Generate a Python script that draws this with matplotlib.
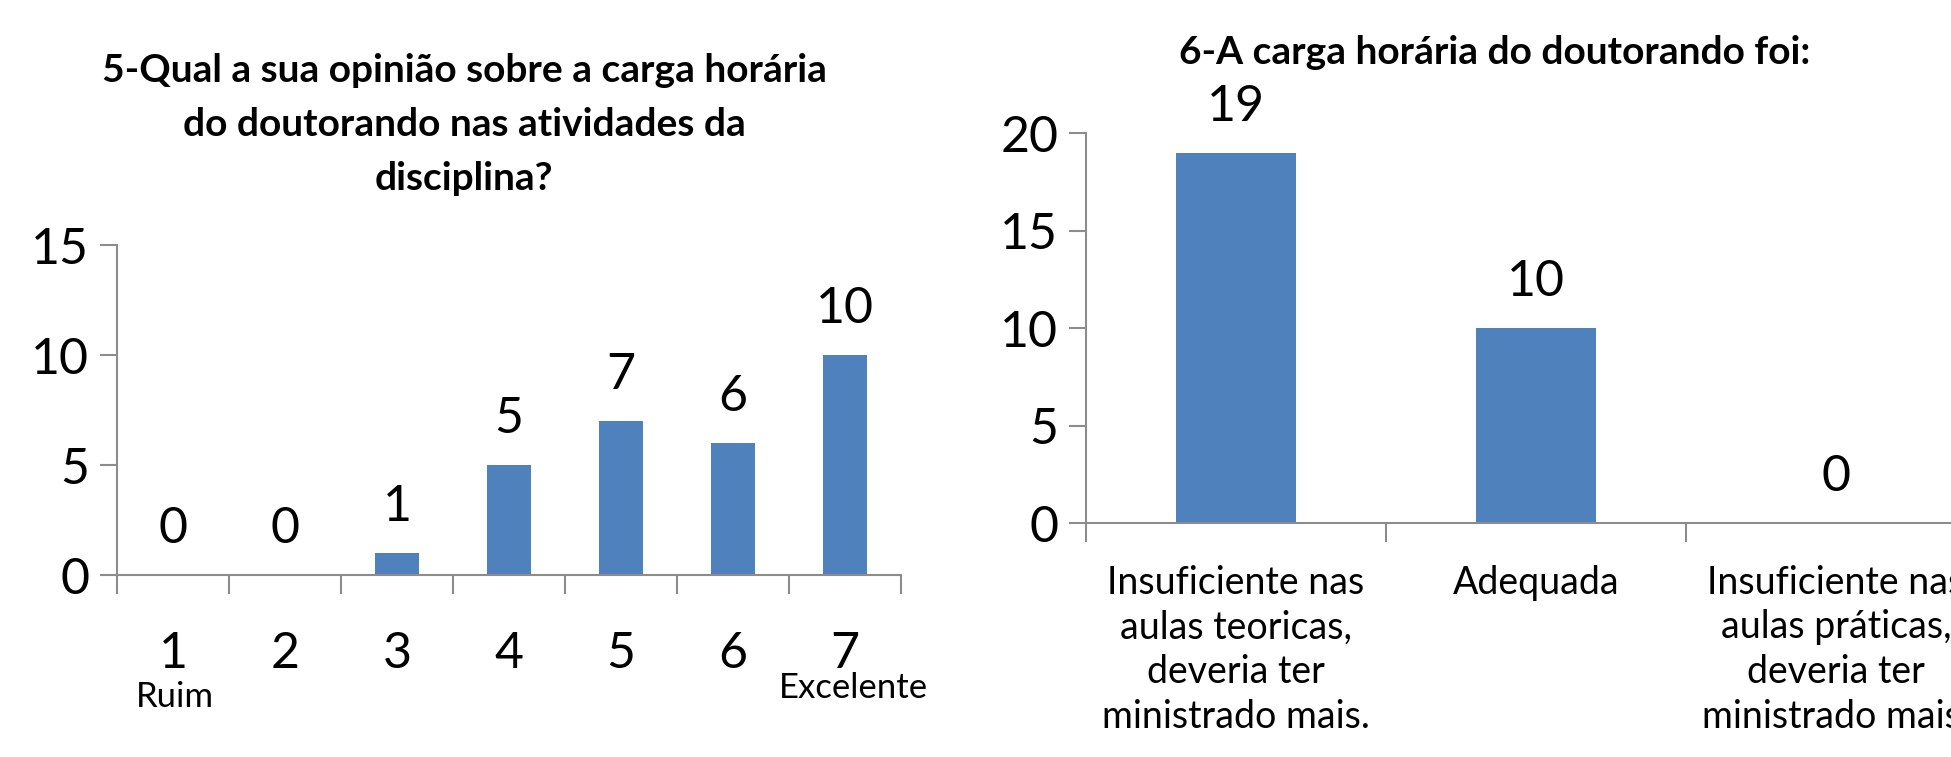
import matplotlib
matplotlib.use('Agg')
import matplotlib.pyplot as plt
import numpy as np

plt.rcParams['font.family'] = ['Lato', 'DejaVu Sans']

# dados - pergunta 5
notas = ['1', '2', '3', '4', '5', '6', '7']
votos5 = [0, 0, 1, 5, 7, 6, 10]

# dados - pergunta 6
opcoes = ['Insuficiente nas\naulas teoricas,\ndeveria ter\nministrado mais.',
          'Adequada',
          'Insuficiente nas\naulas práticas,\ndeveria ter\nministrado mais.']
votos6 = [19, 10, 0]

azul = '#4F81BD'
cinza = '#8C8C8C'

fig = plt.figure(figsize=(19.51, 7.57), dpi=100)


def estilo(ax, n, ymax, passo):
    for s in ['top', 'right']:
        ax.spines[s].set_visible(False)
    for s in ['left', 'bottom']:
        ax.spines[s].set_color(cinza)
        ax.spines[s].set_linewidth(1.5)
    ax.set_xlim(-0.5, n - 0.5)
    ax.set_ylim(0, ymax)
    ax.set_yticks(np.arange(0, ymax + 1, passo))
    ax.set_xticks(np.arange(-0.5, n, 1.0))
    ax.set_xticklabels([])
    ax.tick_params(axis='both', which='major', direction='out', length=12,
                   width=1.5, color=cinza, labelsize=36, pad=8)
    ax.tick_params(axis='x', which='major', length=14)


# grafico 5
ax1 = fig.add_axes([0.060, 0.240, 0.4018, 0.436])
x1 = np.arange(len(notas))
b1 = ax1.bar(x1, votos5, width=0.39, color=azul)
estilo(ax1, len(notas), 15, 5)
ax1.set_xticks(x1, minor=True)
ax1.set_xticklabels(notas, minor=True)
ax1.tick_params(axis='x', which='minor', length=0, labelsize=36, pad=40)
for xi, v in zip(x1, votos5):
    ax1.annotate(str(v), (xi, v), xytext=(0, 33), textcoords='offset points',
                 ha='center', va='center', fontsize=36)
ax1.text(0.02, -0.37, 'Ruim', transform=ax1.get_xaxis_transform(),
         ha='center', va='center', fontsize=25)
ax1.text(6.08, -0.34, 'Excelente', transform=ax1.get_xaxis_transform(),
         ha='center', va='center', fontsize=25)
fig.text(0.238, 0.836, '5-Qual a sua opinião sobre a carga horária\n'
         'do doutorando nas atividades da\ndisciplina?',
         ha='center', va='center', fontsize=28, fontweight='bold',
         linespacing=1.66)

# grafico 6
ax2 = fig.add_axes([0.5566, 0.309, 0.4613, 0.515])
x2 = np.arange(len(opcoes))
b2 = ax2.bar(x2, votos6, width=0.40, color=azul)
estilo(ax2, len(opcoes), 20, 5)
ax2.set_xticks(x2, minor=True)
ax2.set_xticklabels(opcoes, minor=True, linespacing=1.3)
ax2.tick_params(axis='x', which='minor', length=0, labelsize=27, pad=30)
for xi, v in zip(x2, votos6):
    ax2.annotate(str(v), (xi, v), xytext=(0, 33), textcoords='offset points',
                 ha='center', va='center', fontsize=36)
fig.text(0.766, 0.931, '6-A carga horária do doutorando foi:',
         ha='center', va='center', fontsize=28, fontweight='bold')

fig.savefig('out.png', dpi=100)
